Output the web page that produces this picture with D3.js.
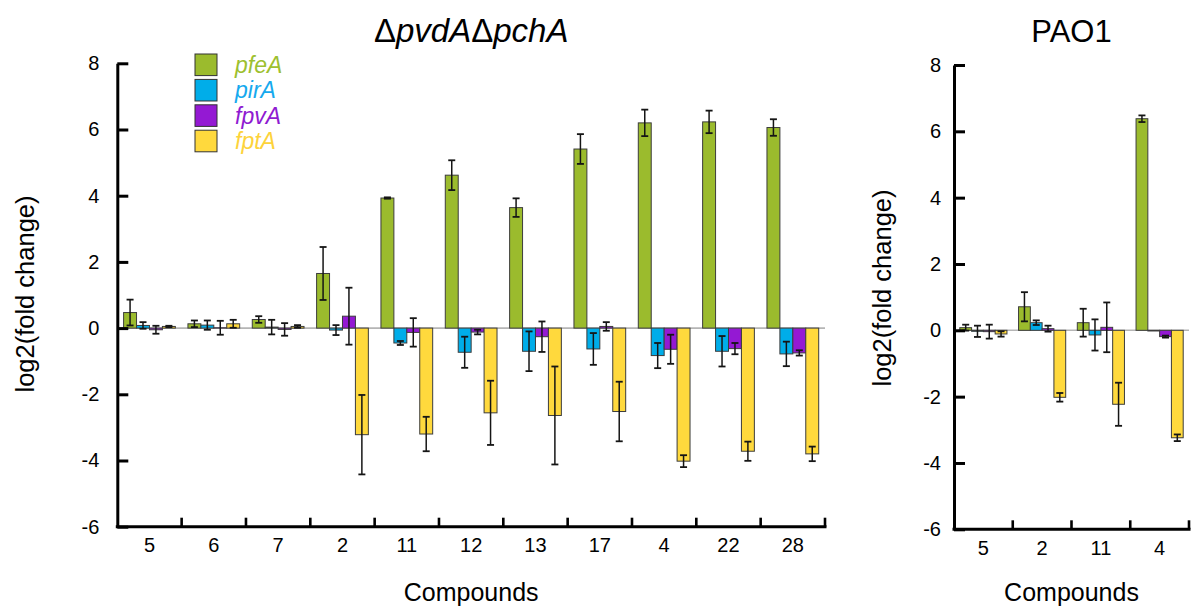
<!DOCTYPE html>
<html>
<head>
<meta charset="utf-8">
<script src="https://cdn.jsdelivr.net/npm/d3@7"></script>
<style>
  html, body { margin: 0; padding: 0; background: #fff; }
  svg { display: block; font-family: Arial, "Liberation Sans", sans-serif; }
</style>
</head>
<body>
<svg id="chart" width="1192" height="608"></svg>
<script>
// ---------- DATA ----------
const seriesNames = ["pfeA", "pirA", "fpvA", "fptA"];
const yTicks = [-6, -4, -2, 0, 2, 4, 6, 8];

// Left panel: ΔpvdAΔpchA
const leftCategories = ["5", "6", "7", "2", "11", "12", "13", "17", "4", "22", "28"];
const leftPfeA    = [0.47, 0.13, 0.26, 1.65, 3.93, 4.62, 3.64, 5.41, 6.20, 6.23, 6.06];
const leftPfeAErr = [0.39, 0.10, 0.10, 0.80, 0.02, 0.45, 0.28, 0.45, 0.40, 0.34, 0.25];
const leftPirA    = [0.08, 0.09, 0.03, -0.06, -0.45, -0.73, -0.70, -0.63, -0.83, -0.70, -0.78];
const leftPirAErr = [0.10, 0.14, 0.22, 0.15, 0.06, 0.47, 0.60, 0.48, 0.38, 0.46, 0.37];
const leftFpvA    = [-0.05, 0.01, -0.04, 0.36, -0.13, -0.12, -0.26, 0.05, -0.64, -0.62, -0.75];
const leftFpvAErr = [0.12, 0.21, 0.19, 0.86, 0.43, 0.07, 0.46, 0.13, 0.44, 0.17, 0.08];
const leftFptA    = [0.05, 0.13, 0.05, -3.22, -3.20, -2.56, -2.64, -2.52, -4.02, -3.72, -3.80];
const leftFptAErr = [0.02, 0.12, 0.04, 1.20, 0.52, 0.97, 1.48, 0.90, 0.18, 0.29, 0.22];

// Right panel: PAO1
const rightCategories = ["5", "2", "11", "4"];
const rightPfeA    = [0.08, 0.71, 0.23, 6.38];
const rightPfeAErr = [0.09, 0.44, 0.42, 0.10];
const rightPirA    = [-0.03, 0.23, -0.14, -0.02];
const rightPirAErr = [0.17, 0.07, 0.47, 0.00];
const rightFpvA    = [-0.04, 0.05, 0.09, -0.19];
const rightFpvAErr = [0.21, 0.09, 0.75, 0.03];
const rightFptA    = [-0.11, -2.02, -2.23, -3.24];
const rightFptAErr = [0.08, 0.13, 0.65, 0.10];

// ---------- STYLE ----------
const fillColors = ["#9bbb2d", "#00ade9", "#9419d3", "#ffd93d"];
const textColors = ["#9dc02f", "#16a9ee", "#8f1bd1", "#fdd33b"];

const svg = d3.select("#chart");

function buildRows(cats, vals, errs) {
  return cats.map((c, i) => ({
    cat: c,
    bars: seriesNames.map((s, k) => ({ series: s, k, value: vals[k][i], err: errs[k][i] }))
  }));
}

function drawPanel(opt) {
  const { x0, x1, yTop, yBottom, cats, rows, tickPad, xLabPad, title, titleItalic, titleSize, yLabelX, yLabelY, barInset } = opt;
  const g = svg.append("g");
  const x = d3.scaleBand().domain(cats).range([x0, x1]).paddingInner(0).paddingOuter(0);
  const bw = x.bandwidth();
  const xs = d3.scaleBand().domain(seriesNames).range([barInset, bw - barInset]).padding(0);
  const y = d3.scaleLinear().domain([-6, 8]).range([yBottom, yTop]);

  // zero line
  g.append("line")
    .attr("x1", x0).attr("x2", x1)
    .attr("y1", y(0)).attr("y2", y(0))
    .attr("stroke", "#b5b5b5").attr("stroke-width", 1.6);

  // bars
  const grp = g.selectAll("g.grp").data(rows).join("g")
    .attr("class", "grp")
    .attr("transform", d => `translate(${x(d.cat)},0)`);

  grp.selectAll("rect").data(d => d.bars).join("rect")
    .attr("x", d => xs(d.series))
    .attr("width", xs.bandwidth())
    .attr("y", d => Math.min(y(d.value), y(0)))
    .attr("height", d => Math.abs(y(d.value) - y(0)))
    .attr("fill", d => fillColors[d.k])
    .attr("stroke", "#3c3c3c")
    .attr("stroke-width", 1);

  // error bars
  const eb = grp.selectAll("g.err").data(d => d.bars.filter(b => b.err > 0)).join("g").attr("class", "err");
  const cx = d => xs(d.series) + xs.bandwidth() / 2;
  eb.append("line")
    .attr("x1", cx).attr("x2", cx)
    .attr("y1", d => y(d.value + d.err)).attr("y2", d => y(d.value - d.err))
    .attr("stroke", "#151515").attr("stroke-width", 1.5);
  [1, -1].forEach(sg => {
    eb.append("line")
      .attr("x1", d => cx(d) - 3.5).attr("x2", d => cx(d) + 3.5)
      .attr("y1", d => y(d.value + sg * d.err)).attr("y2", d => y(d.value + sg * d.err))
      .attr("stroke", "#151515").attr("stroke-width", 1.8);
  });

  // y axis
  const ya = g.append("g")
    .attr("transform", `translate(${x0},0)`)
    .call(d3.axisLeft(y).tickValues(yTicks).tickFormat(d => String(d)).tickSizeInner(-11).tickSizeOuter(0).tickPadding(tickPad));
  ya.select(".domain").attr("stroke", "#000").attr("stroke-width", 3);
  ya.selectAll(".tick line").attr("stroke", "#000").attr("stroke-width", 3);
  ya.selectAll(".tick text").attr("font-size", 20).attr("fill", "#000")
    .attr("font-family", 'Arial, "Liberation Sans", sans-serif');

  // x axis
  const xa = g.append("g")
    .attr("transform", `translate(0,${yBottom})`)
    .call(d3.axisBottom(x).tickSize(0).tickPadding(xLabPad));
  xa.select(".domain").remove();
  xa.selectAll(".tick text").attr("font-size", 20).attr("fill", "#000")
    .attr("font-family", 'Arial, "Liberation Sans", sans-serif');
  g.append("line")
    .attr("x1", x0 - 1.5).attr("x2", x1 + 1.5)
    .attr("y1", yBottom).attr("y2", yBottom)
    .attr("stroke", "#000").attr("stroke-width", 3);
  g.selectAll("line.xt").data(cats.slice(1).concat(["__end"])).join("line")
    .attr("class", "xt")
    .attr("x1", d => d === "__end" ? x1 : x(d))
    .attr("x2", d => d === "__end" ? x1 : x(d))
    .attr("y1", yBottom).attr("y2", yBottom - 9)
    .attr("stroke", "#000").attr("stroke-width", 2.6);

  // titles
  const mid = (x0 + x1) / 2;
  const t = g.append("text")
    .attr("x", mid).attr("y", 42)
    .attr("text-anchor", "middle")
    .attr("font-size", titleSize);
  if (titleItalic) {
    title.forEach(part => {
      t.append("tspan").attr("font-style", part.italic ? "italic" : "normal").text(part.text);
    });
  } else {
    t.text(title);
  }

  g.append("text")
    .attr("x", mid).attr("y", 601)
    .attr("text-anchor", "middle")
    .attr("font-size", 25)
    .text("Compounds");

  g.append("text")
    .attr("transform", `translate(${yLabelX},${yLabelY}) rotate(-90)`)
    .attr("text-anchor", "middle")
    .attr("dominant-baseline", "central")
    .attr("font-size", 25.5)
    .text("log2(fold change)");

  return { x, y };
}

drawPanel({
  x0: 117.3, x1: 825, yTop: 63.3, yBottom: 526.7,
  cats: leftCategories,
  rows: buildRows(leftCategories,
    [leftPfeA, leftPirA, leftFpvA, leftFptA],
    [leftPfeAErr, leftPirAErr, leftFpvAErr, leftFptAErr]),
  tickPad: 18, xLabPad: 11.5, barInset: 6.3,
  title: [{ text: "Δ", italic: false }, { text: "pvdA", italic: true }, { text: "Δ", italic: false }, { text: "pchA", italic: true }],
  titleItalic: true, titleSize: 33,
  yLabelX: 25, yLabelY: 294
});

drawPanel({
  x0: 954, x1: 1189, yTop: 65, yBottom: 529.3,
  cats: rightCategories,
  rows: buildRows(rightCategories,
    [rightPfeA, rightPirA, rightFpvA, rightFptA],
    [rightPfeAErr, rightPirAErr, rightFpvAErr, rightFptAErr]),
  tickPad: 13, xLabPad: 12, barInset: 5.8,
  title: "PAO1", titleItalic: false, titleSize: 31,
  yLabelX: 882, yLabelY: 288
});

// legend
const legend = svg.append("g");
const legY = d3.scaleBand().domain(seriesNames).range([54, 151.8]).paddingInner(0.15).paddingOuter(0);
seriesNames.forEach((s, k) => {
  legend.append("rect")
    .attr("x", 195).attr("y", legY(s))
    .attr("width", 22).attr("height", legY.bandwidth())
    .attr("fill", fillColors[k]).attr("stroke", "#333").attr("stroke-width", 1);
  legend.append("text")
    .attr("x", 235).attr("y", legY(s) + legY.bandwidth() / 2 + 8)
    .attr("font-size", 23).attr("font-style", "italic")
    .attr("fill", textColors[k])
    .text(s);
});
</script>
</body>
</html>
